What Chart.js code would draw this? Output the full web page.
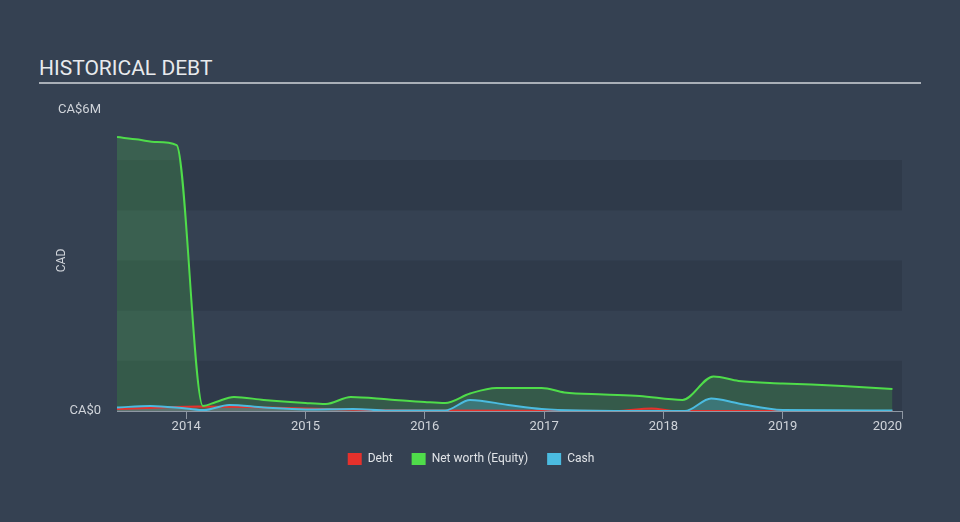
<!DOCTYPE html>
<html>
<head>
<meta charset="utf-8">
<script src="https://cdn.jsdelivr.net/npm/chart.js@4.4.1/dist/chart.umd.min.js"></script>
<style>
  html, body { margin: 0; padding: 0; background: #354152; }
  #wrap { position: relative; width: 960px; height: 522px; }
  #title {
    position: absolute; left: 39px; top: 56px; width: 882px;
    font: 21px Roboto, sans-serif; color: #e8eaed; line-height: 24px;
    border-bottom: 2px solid #a9afb7; padding-bottom: 2px;
  }
  canvas { position: absolute; left: 0; top: 0; }
</style>
</head>
<body>
<div id="wrap">
  <div id="title">HISTORICAL DEBT</div>
  <canvas id="debtChart" width="960" height="522"></canvas>
</div>
<script>
// === Data (CA$ millions, x = decimal year) ===
const equityYears = [2013.42, 2013.6, 2013.75, 2013.92, 2014.14, 2014.25, 2014.4, 2014.65, 2015, 2015.17, 2015.38, 2015.7, 2016, 2016.17, 2016.38, 2016.6, 2016.98, 2017.17, 2017.5, 2017.8, 2018.16, 2018.42, 2018.63, 2019, 2019.5, 2019.92];
const equity = [5.46, 5.41, 5.36, 5.3, 0.1, 0.18, 0.28, 0.22, 0.16, 0.14, 0.28, 0.23, 0.18, 0.16, 0.35, 0.46, 0.46, 0.37, 0.33, 0.3, 0.22, 0.69, 0.6, 0.55, 0.5, 0.44];

const cashYears = [2013.42, 2013.7, 2014, 2014.15, 2014.36, 2014.65, 2015, 2015.4, 2015.7, 2016, 2016.17, 2016.38, 2016.7, 2016.98, 2017.3, 2018, 2018.18, 2018.4, 2018.63, 2019, 2019.92];
const cash = [0.07, 0.1, 0.05, 0.02, 0.12, 0.07, 0.03, 0.04, 0.01, 0.01, 0.01, 0.22, 0.12, 0.04, 0.01, 0, 0, 0.25, 0.15, 0.02, 0.01];

const debtYears = [2013.42, 2013.8, 2014.1, 2014.5, 2015, 2015.5, 2016, 2017.6, 2017.9, 2018.1, 2019.92];
const debt = [0.04, 0.07, 0.09, 0.08, 0.05, 0.02, 0.01, 0, 0.05, 0, 0];

const xMin = 2013.42;
const tickYears = [2014, 2015, 2016, 2017, 2018, 2019, 2020];
const yTicks = [0, 6];

const toPoints = (xs, ys) => xs.map((x, i) => ({ x: x, y: ys[i] }));

// alternating horizontal bands behind the plot
const bands = {
  id: 'bands',
  beforeDraw(chart) {
    const { ctx, chartArea: a, scales: { y } } = chart;
    ctx.save();
    ctx.fillStyle = '#2f3a4a';
    for (let v = 0; v < 5; v += 2) {
      const top = y.getPixelForValue(v + 1), bot = y.getPixelForValue(v);
      ctx.fillRect(a.left, top, a.right - a.left, bot - top);
    }
    ctx.restore();
  }
};

Chart.defaults.font.family = 'Roboto, sans-serif';
Chart.defaults.font.size = 13;
Chart.defaults.color = '#d0d4da';

new Chart(document.getElementById('debtChart').getContext('2d'), {
  type: 'line',
  data: {
    datasets: [{
      label: 'Debt',
      data: toPoints(debtYears, debt),
      borderColor: '#e6312c',
      backgroundColor: 'rgba(230, 49, 44, 0.35)',
      fill: 'origin',
      order: 2
    }, {
      label: 'Net worth (Equity)',
      data: toPoints(equityYears, equity),
      borderColor: '#4fdc4a',
      backgroundColor: 'rgba(79, 220, 74, 0.2)',
      fill: 'origin',
      order: 1
    }, {
      label: 'Cash',
      data: toPoints(cashYears, cash),
      borderColor: '#4bbbe0',
      backgroundColor: 'rgba(75, 187, 224, 0.3)',
      fill: 'origin',
      order: 0
    }]
  },
  options: {
    responsive: false,
    animation: false,
    layout: { padding: { left: 40, right: 58, top: 110, bottom: 47 } },
    elements: {
      point: { radius: 0 },
      line: { borderWidth: 2, cubicInterpolationMode: 'monotone' }
    },
    plugins: {
      filler: { drawTime: 'beforeDatasetsDraw' },
      tooltip: { enabled: false },
      legend: {
        position: 'bottom',
        labels: {
          boxWidth: 14, boxHeight: 12, padding: 19, color: '#e0e3e7',
          font: { size: 12 },
          generateLabels: chart => chart.data.datasets.map((ds, i) => ({
            text: ds.label, fillStyle: ds.borderColor, strokeStyle: ds.borderColor,
            lineWidth: 0, datasetIndex: i, fontColor: '#e0e3e7'
          }))
        }
      }
    },
    scales: {
      x: {
        type: 'linear', min: xMin, max: 2020,
        // blank tick at the left edge so 'inner' keeps 2020 right-aligned
        afterBuildTicks: s => { s.ticks = [xMin].concat(tickYears).map(v => ({ value: v })); },
        ticks: {
          callback: v => v === xMin ? '' : String(v), padding: 1, maxRotation: 0, align: 'inner',
          color: '#d0d4da', font: { size: 13, lineHeight: 1.0 }
        },
        grid: {
          drawOnChartArea: false, drawTicks: true, tickLength: 8,
          color: c => (c.tick && c.tick.value === xMin) ? 'rgba(0,0,0,0)' : '#8e97a3'
        },
        border: { display: true, color: '#8e97a3', width: 1 }
      },
      y: {
        min: 0, max: 6,
        afterBuildTicks: s => { s.ticks = yTicks.map(v => ({ value: v })); },
        afterFit: s => { s.width = 77; },
        ticks: { callback: v => v === 0 ? 'CA$0' : 'CA$' + v + 'M', padding: 8, color: '#d0d4da' },
        grid: { display: false },
        border: { display: false },
        title: { display: true, text: 'CAD', color: '#d0d4da', font: { size: 12 }, padding: { top: 15, bottom: 0 } }
      }
    }
  },
  plugins: [bands]
});
</script>
</body>
</html>
